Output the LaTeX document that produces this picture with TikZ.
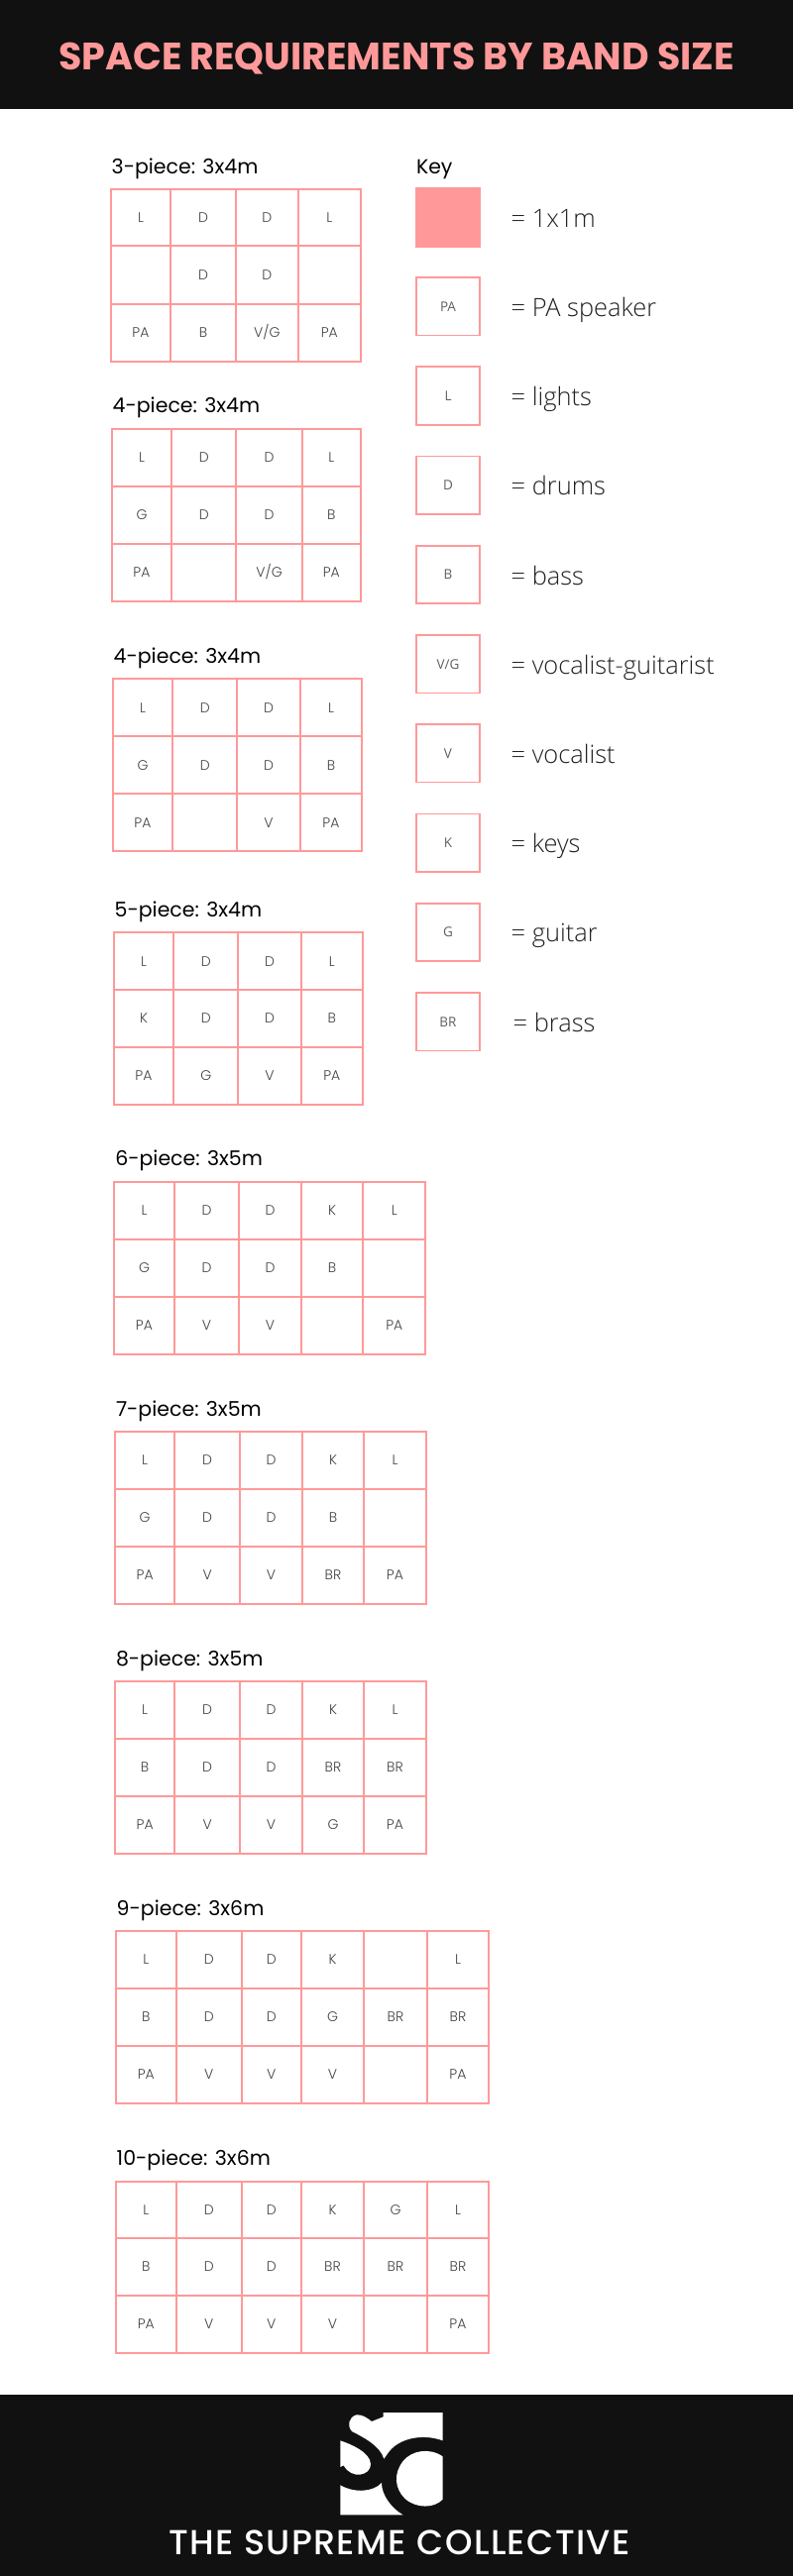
\documentclass[tikz,border=0pt]{standalone}
\usepackage{fontspec}
\usepackage{graphicx}
\setmainfont{Poppins}
\newfontfamily\headfont{Poppins}[UprightFont=* Bold]
\newfontfamily\footfont{Poppins}[UprightFont=* Medium,LetterSpace=4]
\newfontfamily\labfont{Poppins}[UprightFont=* Light]
\newfontfamily\keyfont{Open Sans}[UprightFont=* Light]
\newfontfamily\keyboxfont{Open Sans}
\definecolor{pinkline}{HTML}{FF9999}
\definecolor{bandbg}{HTML}{111111}
\definecolor{celltext}{HTML}{444444}
\definecolor{keytext}{HTML}{222222}
\tikzset{
  cell/.style={draw=pinkline,line width=1.7pt,inner sep=0pt,outer sep=0pt,
    font=\labfont\fontsize{14}{15}\selectfont,text=celltext,
    text height=9.8pt,text depth=0pt,align=center},
  gridtitle/.style={anchor=base west,inner sep=0pt,outer sep=0pt,text=black,
    font=\fontsize{20.5}{22}\selectfont},
  keybox/.style={cell,minimum width=64pt,minimum height=58.5pt,
    font=\keyboxfont\fontsize{13.5}{14}\selectfont,text=celltext!85!white},
  keylabel/.style={anchor=base west,inner sep=0pt,outer sep=0pt,text=keytext,
    font=\keyfont\fontsize{25.4}{28}\selectfont},
  bandtitle/.style={anchor=base,inner sep=0pt,outer sep=0pt,text=pinkline,
    font=\headfont\fontsize{38.5}{40}\selectfont},
  bandfoot/.style={anchor=base,inner sep=0pt,outer sep=0pt,text=white,
    font=\footfont\fontsize{35}{38}\selectfont},
}
% #1 id, #2 title, #3 y lines, #4 x lines, #5 rows of labels
\newcommand{\bandgrid}[5]{%
  \pgfmathsetmacro\titlex{{#4}[0]+1}
  \pgfmathsetmacro\titley{{#3}[0]-16}
  \node[gridtitle] (#1-title) at (\titlex,\titley) {#2};
  \foreach [count=\ri from 0] \rowlabels in {#5} {
    \foreach [count=\ci from 0] \lab in \rowlabels {
      \pgfmathsetmacro\xa{{#4}[\ci]}
      \pgfmathsetmacro\xb{{#4}[\ci+1]}
      \pgfmathsetmacro\ya{{#3}[\ri]}
      \pgfmathsetmacro\yb{{#3}[\ri+1]}
      \pgfmathsetmacro\cw{\xb-\xa}
      \pgfmathsetmacro\ch{\yb-\ya}
      \node[cell,minimum width=\cw pt,minimum height=\ch pt]
        (#1-\ri-\ci) at ({(\xa+\xb)/2},{(\ya+\yb)/2}) {\lab};
    }
  }
}
% #1 id, #2 box text, #3 y top, #4 label text, #5 label x
\newcommand{\keyrow}[5]{%
  \node[keybox] (#1-box) at (452,#3+29.25) {#2};
  \node[keylabel] (#1-text) at (#5,#3+39.25) {#4};
}
\begin{document}
\begin{tikzpicture}[x=1pt,y=-1pt]
\useasboundingbox (0,0) rectangle (800,2600);
\fill[white] (0,0) rectangle (800,2600);
\fill[bandbg] (0,0) rectangle (800,110);
\fill[bandbg] (0,2417) rectangle (800,2600);
\node[bandtitle] (maintitle) at (400,70) {\scalebox{0.985}[1]{SPACE REQUIREMENTS BY BAND SIZE}};

\bandgrid{ga}{3-piece: 3x4m}{191,248.3,306.7,364.7}{111.7,172.3,237.7,301,363.7}
  {{L,D,D,L},{{},D,D,{}},{PA,B,V/G,PA}}
\bandgrid{gb}{4-piece: 3x4m}{432.7,491,549,607}{112.7,173.3,238.3,305,363.7}
  {{L,D,D,L},{G,D,D,B},{PA,{},V/G,PA}}
\bandgrid{gc}{4-piece: 3x4m}{685.3,743.3,801.3,859}{113.7,174.3,239.3,302.7,365.3}
  {{L,D,D,L},{G,D,D,B},{PA,{},V,PA}}
\bandgrid{gd}{5-piece: 3x4m}{941.3,999,1057,1115}{114.7,175.3,240.3,303.7,366}
  {{L,D,D,L},{K,D,D,B},{PA,G,V,PA}}
\bandgrid{ge}{6-piece: 3x5m}{1192.7,1250.7,1308.7,1367}{115.3,175.7,241.3,303.7,366.3,429.3}
  {{L,D,D,K,L},{G,D,D,B,{}},{PA,V,V,{},PA}}
\bandgrid{gf}{7-piece: 3x5m}{1445,1503,1561,1618.7}{116,176.3,242,305,367,430}
  {{L,D,D,K,L},{G,D,D,B,{}},{PA,V,V,BR,PA}}
\bandgrid{gg}{8-piece: 3x5m}{1697,1755,1813,1870.7}{116,176.3,242,305,367,430}
  {{L,D,D,K,L},{B,D,D,BR,BR},{PA,V,V,G,PA}}
\bandgrid{gh}{9-piece: 3x6m}{1949,2007,2065,2123}{116.7,178,243.7,304,367,431,493}
  {{L,D,D,K,{},L},{B,D,D,G,BR,BR},{PA,V,V,V,{},PA}}
\bandgrid{gi}{10-piece: 3x6m}{2201.7,2259,2317,2375}{116.7,178,243.7,304,367,431,493}
  {{L,D,D,K,G,L},{B,D,D,BR,BR,BR},{PA,V,V,V,{},PA}}

\node[gridtitle] (keytitle) at (420,175) {Key};
\node[keybox,fill=pinkline] (k0-box) at (452,219.5) {};
\node[keylabel] (k0-text) at (515.7,229) {= 1x1m};
\keyrow{k1}{PA}{280}{= PA speaker}{515.7}
\keyrow{k2}{L}{370.2}{= lights}{515.7}
\keyrow{k3}{D}{460.5}{= drums}{515.7}
\keyrow{k4}{B}{550.8}{= bass}{515.7}
\keyrow{k5}{V/G}{641}{= vocalist-guitarist}{515.7}
\keyrow{k6}{V}{731}{= vocalist}{515.7}
\keyrow{k7}{K}{821.5}{= keys}{515.7}
\keyrow{k8}{G}{911.7}{= guitar}{515.7}
\keyrow{k9}{BR}{1002}{= brass}{517.7}

% logo
\begin{scope}[shift={(150,2400)},x=0.3333pt,y=-0.3333pt]
\fill[white] (710,105) -- (890,105) -- (890,190)
  .. controls (835,170) and (770,180) .. (735,215)
  .. controls (725,225) and (720,235) .. (712,245)
  .. controls (700,205) and (650,180) .. (615,162)
  .. controls (600,145) and (605,120) .. (628,112)
  .. controls (645,110) and (660,120) .. (675,132)
  -- (710,118) -- cycle;
\fill[white] (580,190) .. controls (610,200) and (672,225) .. (672,262)
  .. controls (672,295) and (615,310) .. (590,265)
  -- (580,270) -- cycle;
\fill[white] (580,325) .. controls (625,350) and (680,345) .. (705,318)
  .. controls (705,355) and (735,395) .. (770,415)
  -- (580,415) -- cycle;
\fill[white] (890,238) .. controls (850,210) and (795,220) .. (770,252)
  .. controls (740,290) and (745,335) .. (775,365)
  .. controls (810,397) and (865,395) .. (890,368) -- cycle;
\end{scope}
\node[bandfoot] (footer) at (403,2578) {THE SUPREME COLLECTIVE};
\end{tikzpicture}
\end{document}
